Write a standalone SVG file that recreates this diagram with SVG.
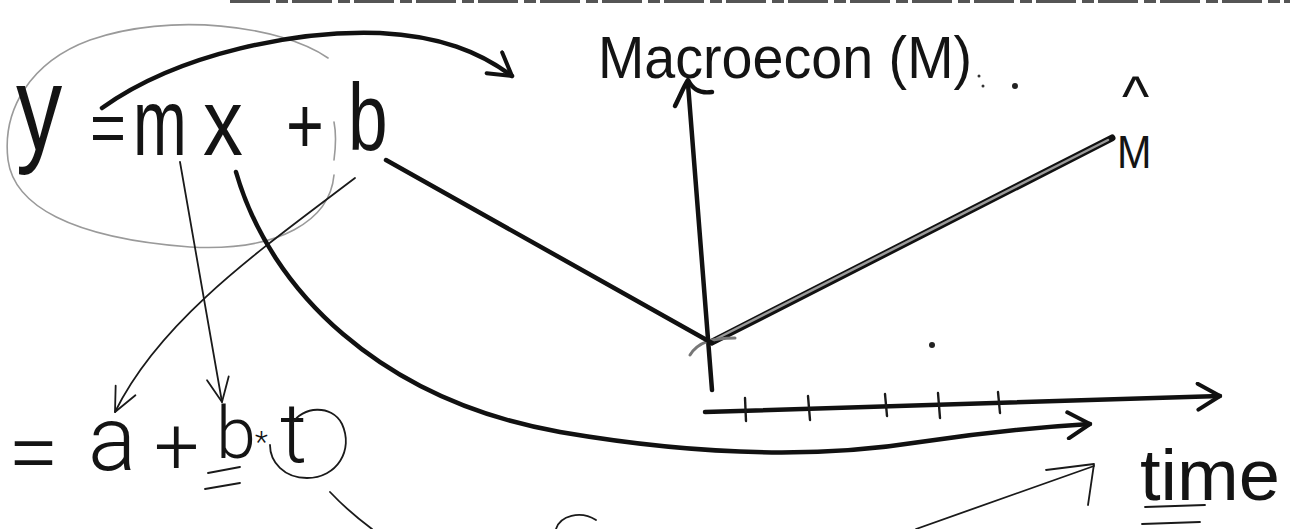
<svg xmlns="http://www.w3.org/2000/svg" width="1290" height="529" viewBox="0 0 1290 529">
<style>
.hw{font-family:"Liberation Sans",Arial,sans-serif;fill:#141414}
.lt{font-family:Roboto,"Liberation Sans",Arial,sans-serif;font-weight:300;fill:#141414}
.thick{fill:none;stroke:#111;stroke-width:4.5;stroke-linecap:round;stroke-linejoin:round}
.thin{fill:none;stroke:#1a1a1a;stroke-width:1.8;stroke-linecap:round;stroke-linejoin:round}
.grey{fill:none;stroke:#9a9a9a;stroke-width:1.6;stroke-linecap:round}
</style>
<defs>
<marker id="openThick" viewBox="0 0 30 30" refX="26" refY="15" markerWidth="30" markerHeight="30" markerUnits="userSpaceOnUse" orient="auto">
<polyline points="4,2 26,15 4,28" fill="none" stroke="#111" stroke-width="4" stroke-linecap="round" stroke-linejoin="round"/>
</marker>
<marker id="openThin" viewBox="0 0 30 30" refX="27" refY="15" markerWidth="30" markerHeight="30" markerUnits="userSpaceOnUse" orient="auto">
<polyline points="3,4 27,15 3,26" fill="none" stroke="#1a1a1a" stroke-width="1.8" stroke-linecap="round" stroke-linejoin="round"/>
</marker>
</defs>
<rect width="1290" height="529" fill="#ffffff"/>
<line x1="230" y1="1.5" x2="1290" y2="1.5" stroke="#555" stroke-width="3" stroke-dasharray="40 6 12 4"/>

<g id="eq-linear">
<path class="grey" d="M328,58 C280,25 170,12 90,40 C30,62 2,110 8,160 C14,205 70,238 190,247 C280,252 330,220 334,175 M334,160 C336,145 336,132 334,122"/>
<text class="hw" transform="translate(16,150) scale(0.77,1)" font-size="120">y</text>
<text class="hw" transform="translate(90,152) scale(0.88,1)" font-size="70">=</text>
<text class="hw" transform="translate(133,155) scale(0.68,1)" font-size="95">m</text>
<text class="hw" transform="translate(203,155) scale(0.84,1)" font-size="95">x</text>
<text class="hw" transform="translate(286,153) scale(0.81,1)" font-size="80">+</text>
<text class="hw" transform="translate(348,150) scale(0.75,1)" font-size="95">b</text>
</g>

<g id="label-macro">
<text class="hw" x="598" y="78" font-size="60" textLength="374" lengthAdjust="spacingAndGlyphs">Macroecon (M)</text>
</g>

<g id="label-mhat">
<text class="hw" x="1122" y="116" font-size="58">^</text>
<text class="hw" transform="translate(1117,168) scale(0.9,1)" font-size="46">M</text>
</g>

<g id="eq-time">
<text class="lt" x="8" y="484" font-size="92">=</text>
<text class="lt" x="88" y="470" font-size="90">a</text>
<text class="lt" x="154" y="474" font-size="80">+</text>
<text class="lt" x="216" y="458" font-size="72">b</text>
<text class="lt" x="255" y="452" font-size="30">*</text>
<text class="lt" x="280" y="462" font-size="84">t</text>
<line class="thin" x1="208" y1="473" x2="240" y2="467"/>
<line class="thin" x1="205" y1="489" x2="240" y2="483"/>
<path class="thin" d="M292,424 C302,406 332,404 342,424 C354,450 337,478 307,478 C284,478 270,462 270,445"/>
</g>

<g id="label-time">
<text class="hw" x="1140" y="500" font-size="72" textLength="140" lengthAdjust="spacingAndGlyphs">time</text>
<line class="thin" x1="1145" y1="507" x2="1205" y2="505"/>
<line class="thin" x1="1142" y1="524" x2="1200" y2="522"/>
</g>

<g id="chart">
<path class="thick" d="M712,390 L688,84"/>
<path class="thick" d="M675,106 C680,96 684,86 688,80 C692,88 698,94 712,92"/>
<path class="thick" d="M705,412 L1220,396" marker-end="url(#openThick)"/>
<g class="thin" style="stroke-width:2.4">
<line x1="745" y1="398" x2="746" y2="421"/>
<line x1="808" y1="396" x2="810" y2="420"/>
<line x1="885" y1="394" x2="887" y2="416"/>
<line x1="938" y1="393" x2="940" y2="418"/>
<line x1="998" y1="392" x2="1000" y2="413"/>
</g>
<path d="M712,342 L1112,138" fill="none" stroke="#111" stroke-width="7" stroke-linecap="round"/>
<path d="M714,340 L1108,140" fill="none" stroke="#9a9a9a" stroke-width="2.5" stroke-linecap="round"/>
<path d="M690,355 C698,342 712,338 735,338" fill="none" stroke="#777" stroke-width="3" stroke-linecap="round"/>
<circle cx="979" cy="76" r="1.5" fill="#333"/>
<circle cx="983" cy="86" r="1.5" fill="#333"/>
<circle cx="1015" cy="86" r="3" fill="#222"/>
<circle cx="932" cy="345" r="3" fill="#222"/>
</g>

<g id="connectors">
<path class="thick" d="M102,108 C180,52 300,30 380,33 C440,36 480,52 512,76" marker-end="url(#openThick)"/>
<path class="thin" d="M180,162 L222,402" marker-end="url(#openThin)"/>
<path class="thin" d="M355,178 C260,250 160,320 115,412" marker-end="url(#openThin)"/>
<path class="thick" d="M386,160 L712,343"/>
<path class="thick" d="M236,172 C270,290 380,400 560,432 C700,456 820,458 920,442 C980,433 1040,427 1090,424" marker-end="url(#openThick)"/>
<path class="thin" d="M330,492 C345,508 360,520 372,529"/>
<path class="thin" d="M556,529 C560,516 580,510 596,520"/>
<path class="thin" d="M916,529 L1094,466"/>
<path class="thin" d="M1046,470 L1094,464 L1088,505"/>
</g>
</svg>
